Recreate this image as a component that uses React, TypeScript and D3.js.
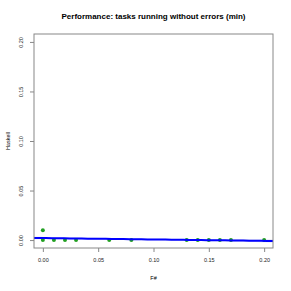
import { useEffect, useRef } from "react";
import * as d3 from "d3";

// F# (x) vs Haskell (y) values
const fsharp = [0, 0, 0.01, 0.02, 0.03, 0.06, 0.08, 0.13, 0.14, 0.15, 0.16, 0.17, 0.2];
const haskell = [0.01, 0, 0, 0, 0, 0, 0, 0, 0, 0, 0, 0, 0];
const xTicks = [0, 0.05, 0.1, 0.15, 0.2];
const yTicks = [0, 0.05, 0.1, 0.15, 0.2];

const W = 291,
  H = 291;

const App = () => {
  const svgRef = useRef<SVGSVGElement>(null);

  useEffect(() => {
    const svg = d3.select(svgRef.current);
    svg.selectAll("*").remove();

    const margin = { top: 34, right: 18, bottom: 43, left: 34 };
    const x = d3.scaleLinear().domain([-0.008, 0.208]).range([margin.left, W - margin.right]);
    const y = d3.scaleLinear().domain([-0.008, 0.208]).range([H - margin.bottom, margin.top]);
    const font = "'Liberation Sans', Arial, sans-serif";

    // linear fit
    const n = fsharp.length;
    const mx = d3.mean(fsharp)!;
    const my = d3.mean(haskell)!;
    let sxy = 0,
      sxx = 0;
    fsharp.forEach((v, i) => {
      sxy += (v - mx) * (haskell[i] - my);
      sxx += (v - mx) * (v - mx);
    });
    const slope = sxy / sxx;
    const icpt = my - slope * mx;
    let rss = 0;
    fsharp.forEach((v, i) => {
      const r = haskell[i] - (icpt + slope * v);
      rss += r * r;
    });
    const s = Math.sqrt(rss / (n - 2));
    const fitX = d3.range(0, 41).map((i) => -0.008 + (0.216 * i) / 40);
    const band = fitX.map((v) => {
      const f = icpt + slope * v;
      const se = s * Math.sqrt(1 / n + ((v - mx) * (v - mx)) / sxx);
      return { x: v, lo: f - se, hi: f + se, f };
    });

    svg
      .append("path")
      .datum(band)
      .attr("fill", "#c4c8e6")
      .attr("opacity", 0.6)
      .attr(
        "d",
        d3
          .area<any>()
          .x((d) => x(d.x))
          .y0((d) => y(d.lo))
          .y1((d) => y(d.hi))
      );

    // points
    svg
      .append("g")
      .selectAll("circle")
      .data(fsharp)
      .enter()
      .append("circle")
      .attr("cx", (d) => x(d))
      .attr("cy", (d, i) => y(haskell[i]))
      .attr("r", 2)
      .attr("fill", "#22a022");

    svg
      .append("path")
      .datum(band)
      .attr("fill", "none")
      .attr("stroke", "#0000ff")
      .attr("stroke-width", 2)
      .attr(
        "d",
        d3
          .line<any>()
          .x((d) => x(d.x))
          .y((d) => y(d.f))
      );

    // box
    svg
      .append("rect")
      .attr("x", margin.left)
      .attr("y", margin.top)
      .attr("width", W - margin.left - margin.right)
      .attr("height", H - margin.top - margin.bottom)
      .attr("fill", "none")
      .attr("stroke", "#888")
      .attr("stroke-width", 1);

    const xAxis = svg
      .append("g")
      .attr("transform", `translate(0,${H - margin.bottom})`)
      .call(d3.axisBottom(x).tickValues(xTicks).tickFormat(d3.format(".2f")).tickSize(4).tickPadding(6));
    xAxis.select(".domain").remove();
    xAxis.selectAll("line").attr("stroke", "#888");
    xAxis.selectAll("text").attr("font-family", font).attr("font-size", 5.5).attr("fill", "#222");

    const yAxis = svg
      .append("g")
      .attr("transform", `translate(${margin.left},0)`)
      .call(d3.axisLeft(y).tickValues(yTicks).tickFormat(d3.format(".2f")).tickSize(4));
    yAxis.select(".domain").remove();
    yAxis.selectAll("line").attr("stroke", "#888");
    yAxis
      .selectAll("text")
      .attr("font-family", font)
      .attr("font-size", 5.5)
      .attr("fill", "#222")
      .attr("text-anchor", "middle")
      .attr("x", null)
      .attr("dy", null)
      .attr("transform", "translate(-11,0) rotate(-90)");

    svg
      .append("text")
      .attr("x", (margin.left + W - margin.right) / 2)
      .attr("y", 19)
      .attr("text-anchor", "middle")
      .attr("font-family", font)
      .attr("font-weight", "bold")
      .attr("font-size", 8)
      .text("Performance: tasks running without errors (min)");

    svg
      .append("text")
      .attr("x", (margin.left + W - margin.right) / 2)
      .attr("y", 280)
      .attr("text-anchor", "middle")
      .attr("font-family", font)
      .attr("font-size", 5.5)
      .text("F#");

    svg
      .append("text")
      .attr("transform", `translate(10,${(margin.top + H - margin.bottom) / 2}) rotate(-90)`)
      .attr("text-anchor", "middle")
      .attr("font-family", font)
      .attr("font-size", 5.5)
      .text("Haskell");
  }, []);

  return (
    <svg
      ref={svgRef}
      width={W}
      height={H}
      style={{ position: "absolute", left: 0, top: 0, background: "#fff" }}
    />
  );
};

export default App;
